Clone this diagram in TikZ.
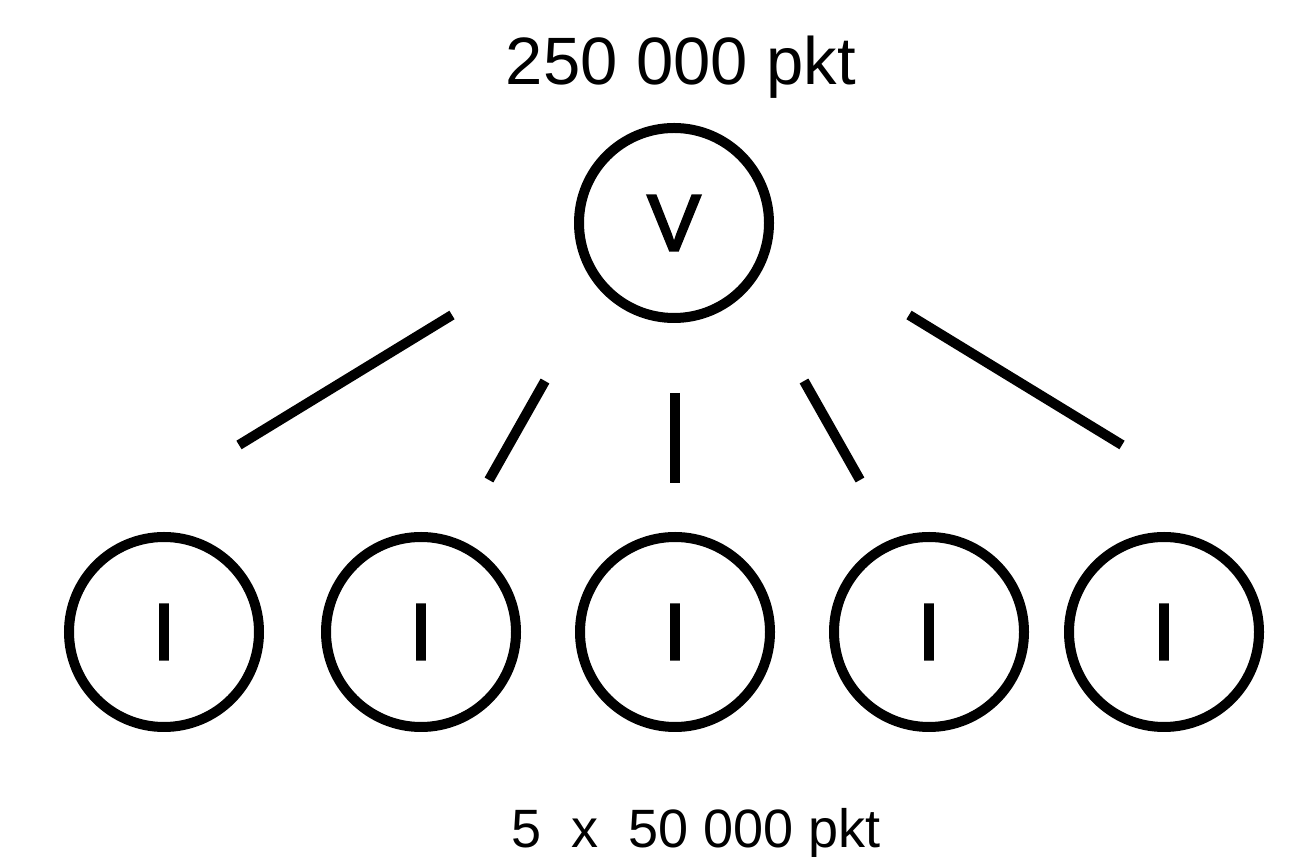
\documentclass[tikz,border=0pt]{standalone}
\usepackage{fontspec}
\setmainfont{Liberation Sans}
\newfontfamily\heavyfont[FakeBold=3]{Liberation Sans}
\usepackage{tikz}

\begin{document}
\begin{tikzpicture}[x=1pt,y=1pt,line width=10pt,
  site/.style={draw,circle,minimum size=190pt,inner sep=0pt,font=\heavyfont\fontsize{80}{96}\selectfont},
  count/.style={anchor=base,inner sep=0pt}]

\useasboundingbox (0,0) rectangle (1308,856);

% Top node
\node[site] (V) at (674,633) {V};
\node[count,font=\fontsize{67}{80}\selectfont] (top) at (681,771) {250 000 pkt};

% Bottom nodes
\foreach \x [count=\i] in {164,421,675,929,1164}
  \node[site] (I\i) at (\x,224) {I};

\node[count,font=\fontsize{54}{64}\selectfont] (bottom) at (696,9) {5~~x~~50 000 pkt};

% Split lines
\draw (452,541) -- (239,411);
\draw (545,475) -- (489,376);
\draw (675,463) -- (675,373);
\draw (804,475) -- (860,376);
\draw (909,541) -- (1122,411);

\end{tikzpicture}
\end{document}
